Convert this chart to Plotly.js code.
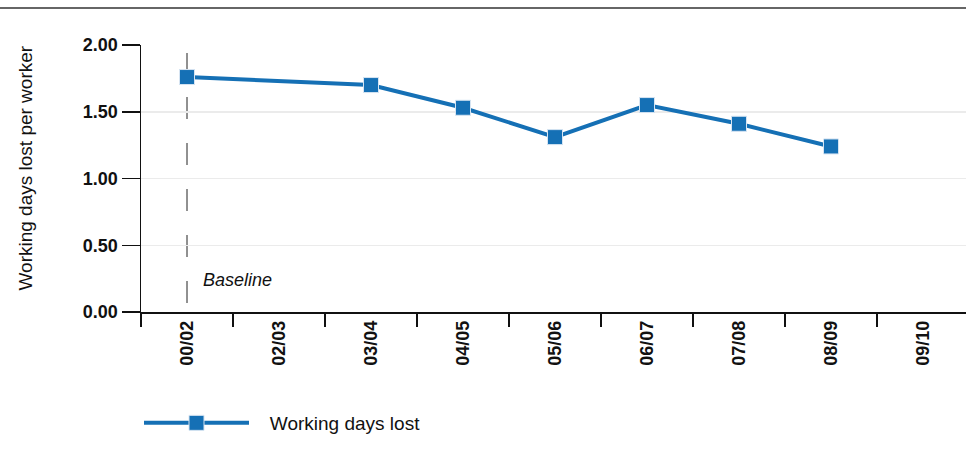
<!DOCTYPE html>
<html>
<head>
<meta charset="utf-8">
<script src="https://cdn.plot.ly/plotly-3.0.1.min.js"></script>
<style>html,body{margin:0;padding:0;background:#fff;}#chart{width:966px;height:459px;}</style>
</head>
<body>
<div id="chart"></div>
<script>
const categories = ["00/02","02/03","03/04","04/05","05/06","06/07","07/08","08/09","09/10"];
const workingDaysLost = [1.76, null, 1.70, 1.53, 1.31, 1.55, 1.41, 1.24, null];
const seriesName = "Working days lost";
const yTickValues = [0, 0.5, 1.0, 1.5, 2.0];
const yTickLabels = ["0.00","0.50","1.00","1.50","2.00"];
const yTitle = "Working days lost per worker";
const baselineCategory = "00/02";
const baselineLabel = "Baseline";

const W = 966, H = 459;
const mL = 141, mR = 0, mT = 45, mB = 147;
const pw = W - mL - mR, ph = H - mT - mB;
const px2x = p => (p - mL) / pw;
const py2y = p => (H - mB - p) / ph;

const blue = "#1570b5";
const font = "'Liberation Sans', Arial, Helvetica, sans-serif";

const trace = {
  x: categories,
  y: workingDaysLost,
  type: "scatter",
  mode: "lines+markers",
  name: "\u00a0\u00a0\u00a0" + seriesName,
  connectgaps: true,
  line: {color: blue, width: 4},
  marker: {symbol: "square", size: 15, color: blue, line: {color: "#d6e4f2", width: 1}},
  hoverinfo: "x+y"
};

const layout = {
  width: W, height: H,
  margin: {l: mL, r: mR, t: mT, b: mB, pad: 0},
  paper_bgcolor: "#fff", plot_bgcolor: "#fff",
  font: {family: font, color: "#111", size: 15},
  showlegend: true,
  legend: {
    orientation: "h",
    x: px2x(139), xanchor: "left",
    y: py2y(423), yanchor: "middle",
    font: {family: font, size: 19, color: "#111"},
    itemwidth: 105,
    bgcolor: "rgba(0,0,0,0)"
  },
  xaxis: {
    type: "category",
    categoryorder: "array",
    categoryarray: categories,
    range: [-0.5, -0.5 + pw / 92],
    showline: true, linecolor: "#111", linewidth: 1.5,
    ticks: "outside", tickson: "boundaries", ticklen: 13, tickcolor: "#111", tickwidth: 1.5,
    tickangle: -90,
    tickfont: {family: font, size: 18, color: "#111", weight: "bold"},
    showgrid: false, zeroline: false, fixedrange: true
  },
  yaxis: {
    range: [0, 2],
    tickvals: yTickValues,
    ticktext: yTickLabels,
    showline: true, linecolor: "#111", linewidth: 1.5,
    ticks: "outside", ticklen: 18, tickcolor: "#111", tickwidth: 1.5,
    tickfont: {family: font, size: 18, color: "#111", weight: "bold"},
    showgrid: true, gridcolor: "#ebebeb", gridwidth: 1.5,
    zeroline: false, fixedrange: true
  },
  shapes: [
    {type: "line", xref: "paper", yref: "paper", x0: px2x(0), x1: px2x(W), y0: py2y(8), y1: py2y(8),
     line: {color: "#333", width: 1.5}},
    {type: "line", xref: "x", yref: "paper", x0: baselineCategory, x1: baselineCategory, y0: py2y(303), y1: py2y(53),
     line: {color: "#222", width: 1, dash: "22px,24px"}, layer: "below"}
  ],
  annotations: [
    {xref: "x", yref: "paper", x: baselineCategory, y: py2y(280), xanchor: "left", yanchor: "middle",
     xshift: 14, text: "<i>" + baselineLabel + "</i>", showarrow: false, font: {family: font, size: 18, color: "#111"}},
    {xref: "paper", yref: "paper", x: px2x(25), y: py2y(168.5), xanchor: "center", yanchor: "middle",
     textangle: -90, text: yTitle, showarrow: false, font: {family: font, size: 19, color: "#111"}}
  ]
};

Plotly.newPlot("chart", [trace], layout, {displayModeBar: false, staticPlot: true});
</script>
</body>
</html>
